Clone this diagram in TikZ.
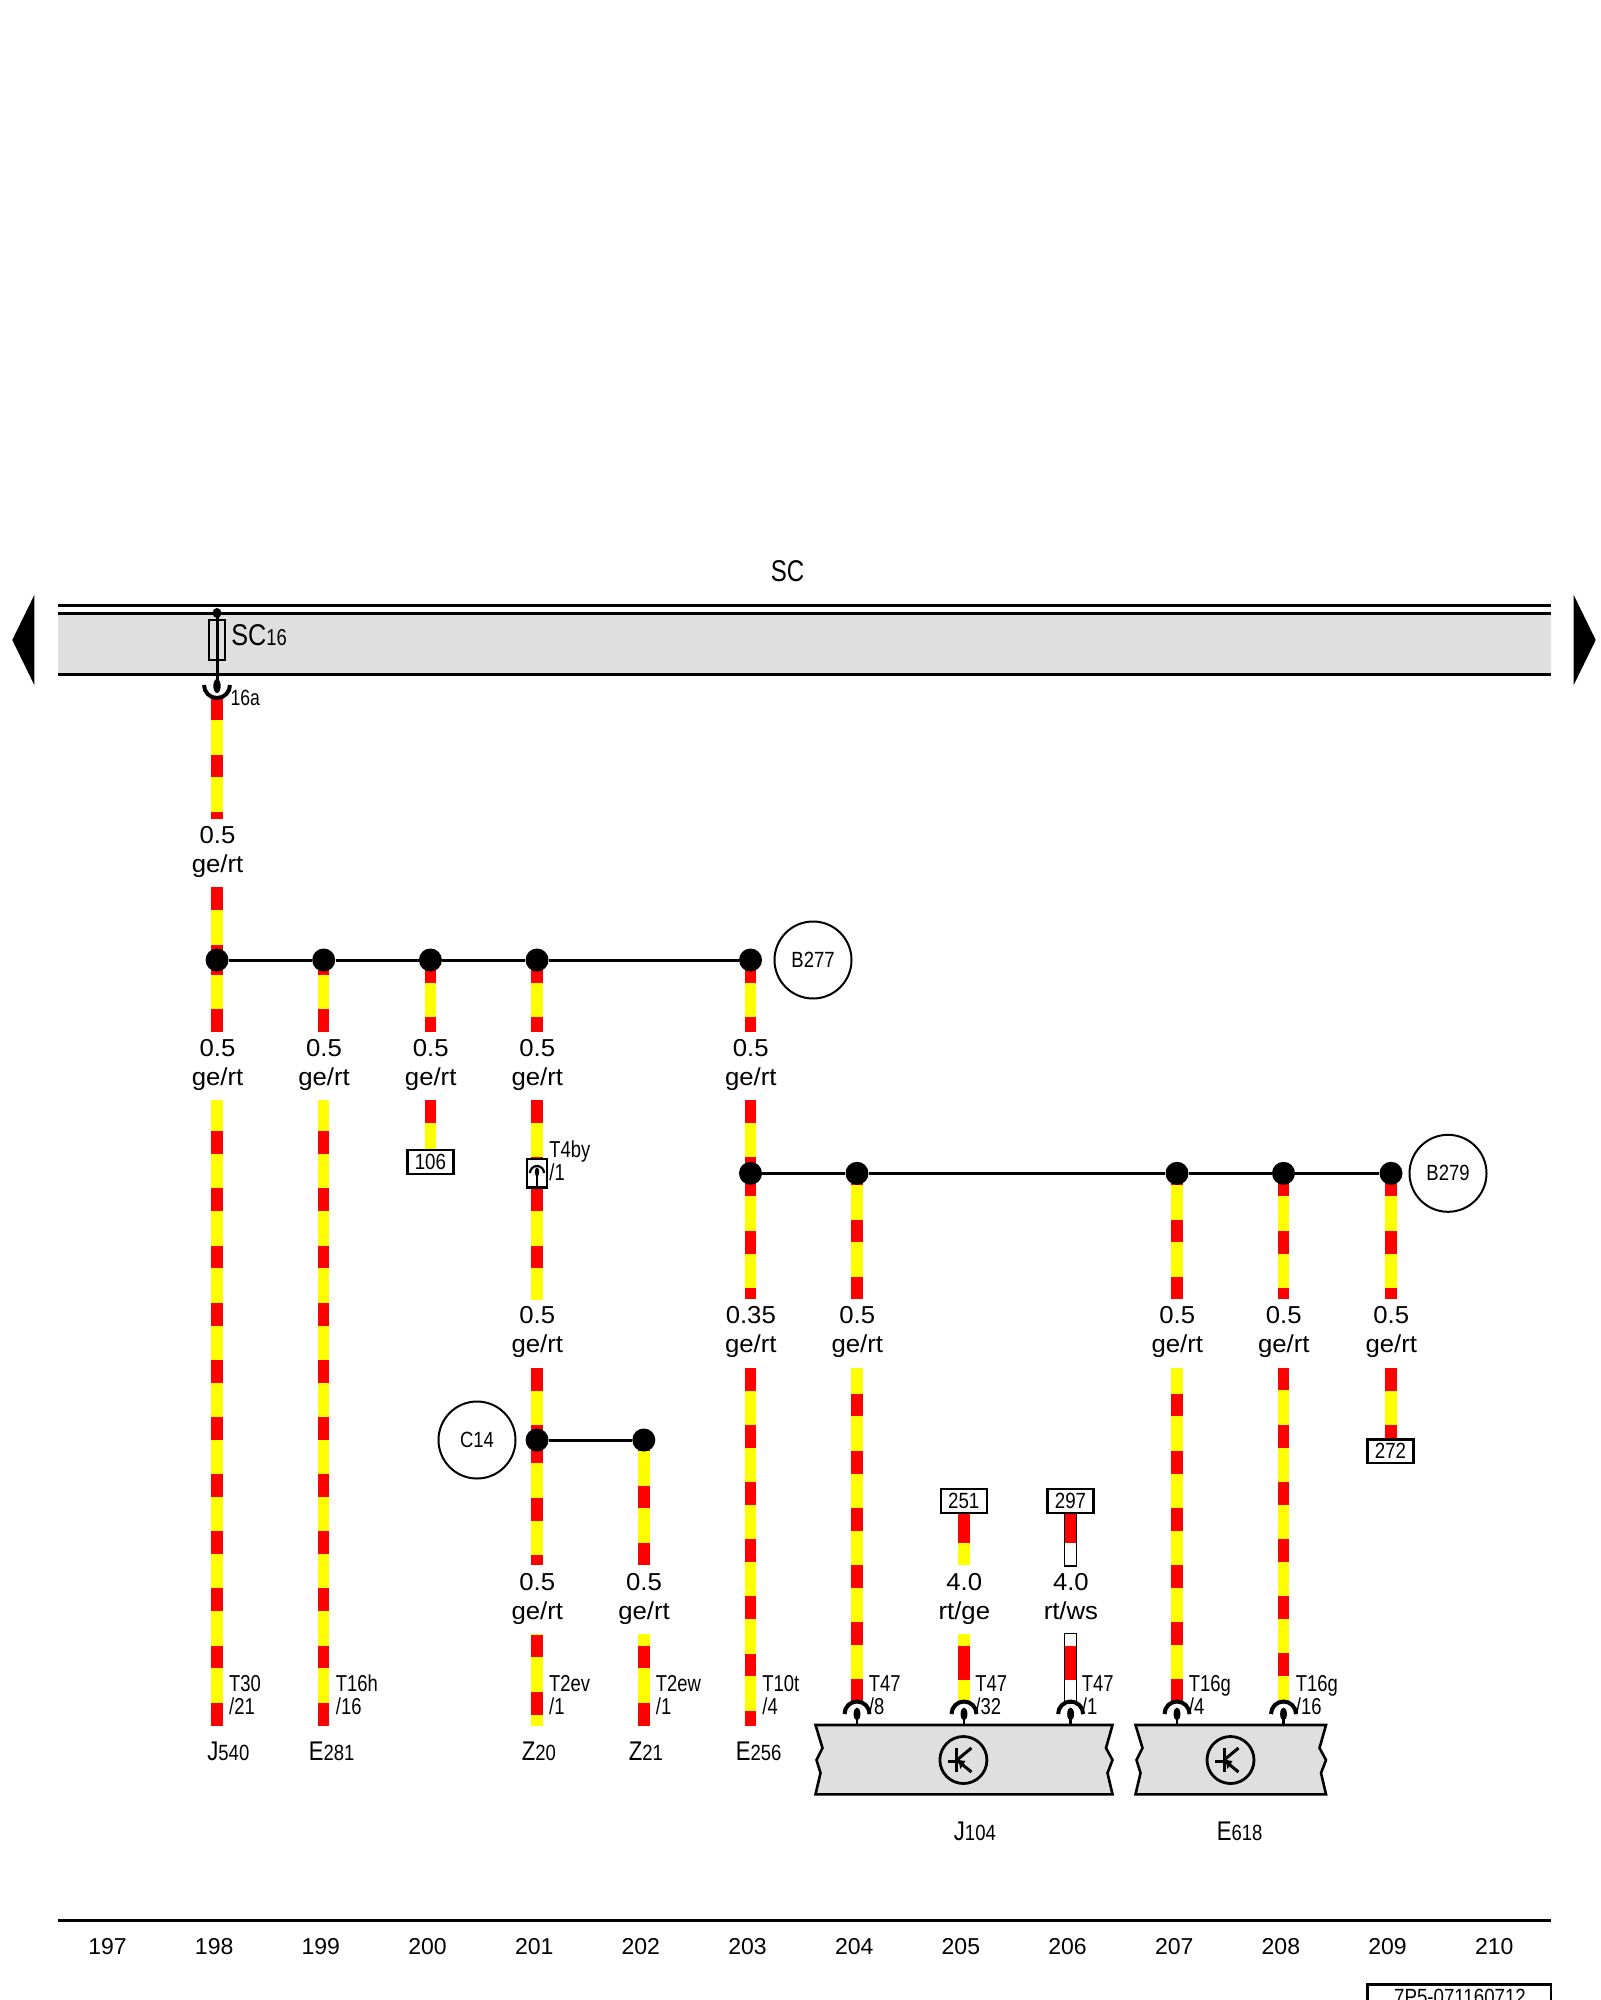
\documentclass[tikz,border=0pt]{standalone}
\usepackage{graphicx}
\usepackage{fontspec}
\setmainfont{Liberation Sans}
\definecolor{bandgray}{HTML}{DFDFDF}
\definecolor{wred}{HTML}{FF0000}
\definecolor{wyel}{HTML}{FFFF00}
\newcommand{\fsz}[1]{\fontsize{#1pt}{#1pt}\selectfont}
\newcommand{\smalltxt}[1]{\fsz{11.5}\scalebox{.8}[1]{#1}}
\newcommand{\boxtxt}[1]{\fsz{11}\scalebox{.85}[1]{#1}}
\newcommand{\circtxt}[1]{\fsz{11}\scalebox{.84}[1]{#1}}
\newcommand{\compname}[2]{\fsz{13.5}\scalebox{.82}[1]{#1}\fsz{11}\scalebox{.84}[1]{#2}}
\tikzset{
  lab/.style={inner sep=0pt,anchor=base},
  gauge/.style={lab,font=\fsz{12.25}},
  pin/.style={inner sep=0pt,anchor=base west},
  dotn/.style={circle,fill=black,draw=none,minimum size=11.5pt,inner sep=0pt},
  refc/.style={circle,draw=black,line width=1pt,minimum size=38.5pt,inner sep=0pt,fill=white},
  refb/.style={rectangle,draw=black,line width=1.2pt,minimum width=23pt,minimum height=11.8pt,inner sep=0pt,fill=white},
  bus/.style={line width=1.5pt,black},
  thickl/.style={line width=1.5pt,black},
  comp/.style={fill=bandgray,draw=black,line width=1.3pt,line join=miter},
}
% name, x, y0, y1, first red start reference
\newcommand{\wirecore}[8]{%
  \pgfmathsetmacro{\wph}{mod(1142.8+#3-#5,57.14)/2}%
  \coordinate (#1t) at (#2,#3);
  \coordinate (#1b) at (#2,#4);
  \draw[line width=5.7pt,#6] (#1t) -- (#1b);
  \draw[line width=5.7pt,wred,dash pattern=on #7pt off #8pt,dash phase=\wph pt] (#1t) -- (#1b);
}
\newcommand{\wireYR}[5]{\wirecore{#1}{#2}{#3}{#4}{#5}{wyel}{11.43}{17.14}}
\newcommand{\wireRY}[5]{\wirecore{#1}{#2}{#3}{#4}{#5}{wyel}{17.14}{11.43}}
\newcommand{\wireRW}[5]{%
  \coordinate (#1o) at (#2,#3-1.5);
  \coordinate (#1p) at (#2,#4+1.5);
  \draw[line width=6.8pt,black] (#1o) -- (#1p);
  \wirecore{#1}{#2}{#3}{#4}{#5}{white,line width=5.6pt}{17.14}{11.43}}
\newcommand{\gaugelab}[5]{%
  \node[gauge] (#1a) at (#2,#3) {\scalebox{1.05}[1]{#4}};
  \node[gauge] (#1b) at (#2,#3+29) {\scalebox{1.05}[1]{#5}};
}
\newcommand{\pinlab}[3]{%
  \node[pin] (#1a) at (#2,1691.7) {\smalltxt{#3}};
}
\newcommand{\pinno}[3]{%
  \node[pin] (#1b) at (#2,1714) {\smalltxt{#3}};
}
\newcommand{\contact}[2]{%
  \coordinate (#1c) at (#2,1714);
  \coordinate (#1e) at (#2,1725);
  \draw[line width=2pt,black] ([xshift=-6.25pt]#1c) arc[start angle=180,end angle=0,radius=6.25pt];
  \fill[black] (#2,1714) ellipse[x radius=3.4,y radius=6.5];
  \draw[line width=1.3pt,black] (#1c) -- (#1e);
}
\newcommand{\zbox}[3]{% name, left, right
  \path[comp] (#2,1725) -- (#3,1725) -- (#3-6.5,1748) -- (#3,1760) -- (#3-5,1773) -- (#3,1794.3)
     -- (#2,1794.3) -- (#2+5,1773) -- (#2+1,1760) -- (#2+7,1748) -- cycle;
}
\newcommand{\transsym}[2]{%
  \node[circle,draw=black,line width=1.4pt,minimum size=23.5pt,inner sep=0pt,fill=bandgray] (#1) at (#2,1760) {};
  \draw[line width=1.5pt,black] (#2-6.5,1748) -- (#2-6.5,1772);
  \draw[line width=1.5pt,black] (#2-15.5,1761) -- (#2-3,1761);
  \draw[line width=1.5pt,black] (#2-6.5,1760) -- (#2+8,1748);
  \draw[line width=1.5pt,black] (#2-6.5,1760) -- (#2+8,1772);
  \fill[black] (#2-5,1760) -- (#2+2,1761) -- (#2-3,1769) -- cycle;
}
\begin{document}
\begin{tikzpicture}[x=0.5pt,y=-0.5pt]
\useasboundingbox (0,0) rectangle (1600,2000);
\clip (0,0) rectangle (1600,2000);
\fill[white] (0,0) rectangle (1600,2000);

% SC band
\fill[bandgray] (57.5,613) rectangle (1551,674);
\coordinate (bl1) at (57.5,605); \coordinate (br1) at (1551,605);
\coordinate (bl2) at (57.5,613); \coordinate (br2) at (1551,613);
\coordinate (bl3) at (57.5,674); \coordinate (br3) at (1551,674);
\draw[thickl] (bl1) -- (br1);
\draw[thickl] (bl2) -- (br2);
\draw[thickl] (bl3) -- (br3);
\fill[black] (12.3,640) -- (34.3,595) -- (34.3,685) -- cycle;
\fill[black] (1595.7,640) -- (1573.7,595) -- (1573.7,685) -- cycle;
\node[lab] (sctitle) at (787.5,581) {\fsz{15}\scalebox{.8}[1]{SC}};

% Fuse
\draw[line width=1pt,black] (209,620) rectangle (225,660);
\coordinate (ftop) at (217,613);
\coordinate (fbot) at (217,686);
\draw[thickl] (ftop) -- (fbot);
\fill[black] (ftop) ellipse[x radius=4.5,y radius=5];
\fill[black] (fbot) ellipse[x radius=3.7,y radius=7];
\node[pin] (sc16) at (231,645) {\fsz{15}\scalebox{.84}[1]{SC}\fsz{11.5}\scalebox{.8}[1]{16}};
\node[pin] (p16a) at (230.2,705) {\fsz{11}\scalebox{.8}[1]{16a}};

% Wires, column 217
\wireYR{wa1}{217}{697}{819.3}{811.7}
\wireYR{wa2}{217}{887.3}{960}{944.6}
\wireYR{wa3}{217}{960}{1032.3}{1009.3}
\wireYR{wa4}{217}{1100}{1725.7}{1702.7}
% 323.7
\wireYR{wb3}{323.7}{960}{1032.3}{1009.3}
\wireYR{wb4}{323.7}{1100}{1725.7}{1702.7}
% 430.4
\wireYR{wc3}{430.4}{960}{1032.3}{1017.3}
\wireYR{wc4}{430.4}{1100}{1150}{1100}
% 537
\wireYR{wd3}{537}{960}{1032.3}{1017.3}
\wireYR{wd4}{537}{1100}{1159}{1100}
\wireYR{wd5}{537}{1187.7}{1299.5}{1188.4}
\wireYR{wd6}{537}{1367.7}{1440}{1367.7}
\wireYR{wd7}{537}{1440}{1565.3}{1497.7}
\wireYR{wd8}{537}{1634.3}{1725.7}{1691.7}
% 643.8
\wireYR{we7}{643.8}{1440}{1565.3}{1542.7}
\wireYR{we8}{643.8}{1634.3}{1725.7}{1702.7}
% 750.5
\wireYR{wf3}{750.5}{960}{1032.3}{1017.3}
\wireYR{wf4}{750.5}{1100}{1173.3}{1100}
\wireYR{wf5}{750.5}{1173.3}{1299.3}{1230.7}
\wireYR{wf6}{750.5}{1367.7}{1725.7}{1710.7}
% 857
\wireYR{wg5}{857}{1173.3}{1299.3}{1276.7}
\wireYR{wg6}{857}{1367.7}{1702}{1679.3}
% 964
\wireRY{wh1}{964}{1513}{1565.3}{1508.4}
\wireRY{wh2}{964}{1634.3}{1702}{1645.7}
% 1070.6
\wireRW{wi1}{1070.6}{1513}{1565.3}{1508.4}
\wireRW{wi2}{1070.6}{1634.3}{1702}{1645.7}
% 1177
\wireYR{wj5}{1177}{1173.3}{1299.3}{1276.7}
\wireYR{wj6}{1177}{1367.7}{1702}{1679.3}
% 1283.5
\wireYR{wk5}{1283.5}{1173.3}{1299.3}{1230.7}
\wireYR{wk6}{1283.5}{1367.7}{1702}{1653.3}
% 1391
\wireYR{wl5}{1391}{1173.3}{1299.3}{1230.7}
\wireYR{wl6}{1391}{1367.7}{1440}{1367.7}

% Top contact on first wire
\draw[line width=2pt,black] (204,685) arc[start angle=180,end angle=360,radius=6.5pt];

% Junctions
\foreach \nm/\xx in {d1/217,d2/323.7,d3/430.4,d4/537,d5/750.5}
  \node[dotn] (\nm) at (\xx,960) {};
\foreach \nm/\xx in {f1/750.5,f2/857,f3/1177,f4/1283.5,f5/1391}
  \node[dotn] (\nm) at (\xx,1173.3) {};
\node[dotn] (c1) at (537,1440) {};
\node[dotn] (c2) at (643.8,1440) {};
\draw[bus] (d1) -- (d2);
\draw[bus] (d2) -- (d3);
\draw[bus] (d3) -- (d4);
\draw[bus] (d4) -- (d5);
\draw[bus] (f1) -- (f2);
\draw[bus] (f2) -- (f3);
\draw[bus] (f3) -- (f4);
\draw[bus] (f4) -- (f5);
\draw[bus] (c1) -- (c2);

% Reference circles
\node[refc] (b277) at (813,960) {\circtxt{B277}};
\node[refc] (b279) at (1448,1173.3) {\circtxt{B279}};
\node[refc] (c14) at (477,1440) {\circtxt{C14}};

% Reference boxes
\node[refb] (r106) at (430.4,1162) {\boxtxt{106}};
\node[refb] (r272) at (1390.5,1451.2) {\boxtxt{272}};
\node[refb] (r251) at (963.7,1501) {\boxtxt{251}};
\node[refb] (r297) at (1070.5,1501) {\boxtxt{297}};

% In-line connector T4by
\node[rectangle,draw=black,line width=1.2pt,fill=white,minimum width=10pt,minimum height=14.2pt,inner sep=0pt] (t4by) at (537,1173.4) {};
\draw[line width=1.1pt,black] (530,1173) arc[start angle=180,end angle=0,radius=3.5pt];
\fill[black] (537,1172) ellipse[x radius=2.2,y radius=4.5];
\coordinate (t4s) at (537,1172);
\draw[line width=1pt,black] (t4s) -- (t4by.south);
\node[pin] (t4a) at (549,1157) {\smalltxt{T4by}};
\node[pin] (t4b) at (549,1180) {\smalltxt{/1}};

% Gauge labels
\gaugelab{ga}{217.5}{843}{0.5}{ge/rt}
\gaugelab{gb}{217.5}{1056}{0.5}{ge/rt}
\gaugelab{gc}{324}{1056}{0.5}{ge/rt}
\gaugelab{gd}{430.7}{1056}{0.5}{ge/rt}
\gaugelab{ge}{537.3}{1056}{0.5}{ge/rt}
\gaugelab{gf}{750.8}{1056}{0.5}{ge/rt}
\gaugelab{gg}{537.3}{1323.3}{0.5}{ge/rt}
\gaugelab{gh}{750.8}{1323.3}{0.35}{ge/rt}
\gaugelab{gi}{857.3}{1323.3}{0.5}{ge/rt}
\gaugelab{gj}{1177.3}{1323.3}{0.5}{ge/rt}
\gaugelab{gk}{1283.8}{1323.3}{0.5}{ge/rt}
\gaugelab{gl}{1391.3}{1323.3}{0.5}{ge/rt}
\gaugelab{gm}{537.3}{1590}{0.5}{ge/rt}
\gaugelab{gn}{644}{1590}{0.5}{ge/rt}
\gaugelab{go}{964.3}{1590}{4.0}{rt/ge}
\gaugelab{gp}{1070.9}{1590}{4.0}{rt/ws}

% Pin labels
\pinlab{pa}{228.8}{T30}\pinno{pa}{228.8}{/21}
\pinlab{pb}{335.5}{T16h}\pinno{pb}{335.5}{/16}
\pinlab{pc}{548.8}{T2ev}\pinno{pc}{548.8}{/1}
\pinlab{pd}{655.5}{T2ew}\pinno{pd}{655.5}{/1}
\pinlab{pe}{762}{T10t}\pinno{pe}{762}{/4}
\pinlab{pf}{868.5}{T47}\pinno{pf}{868.5}{/8}
\pinlab{pg}{975}{T47}\pinno{pg}{975}{/32}
\pinlab{ph}{1081.5}{T47}\pinno{ph}{1081.5}{/1}
\pinlab{pi}{1188.5}{T16g}\pinno{pi}{1188.5}{/4}
\pinlab{pj}{1295.5}{T16g}\pinno{pj}{1295.5}{/16}

% Component boxes
\zbox{bj}{815.5}{1112.5}
\zbox{be}{1135.5}{1326}
\contact{ca}{857}
\contact{cb}{964}
\contact{cc}{1070.6}
\contact{cd}{1177}
\contact{ce}{1283.5}
\transsym{sj}{963.4}
\transsym{se}{1230.5}

% Component names
\node[pin] (j540) at (207,1760) {\compname{J}{540}};
\node[pin] (e281) at (308.5,1760) {\compname{E}{281}};
\node[pin] (z20) at (521.5,1760) {\compname{Z}{20}};
\node[pin] (z21) at (628.5,1760) {\compname{Z}{21}};
\node[pin] (e256) at (735.5,1760) {\compname{E}{256}};
\node[pin] (j104) at (953.5,1840) {\compname{J}{104}};
\node[pin] (e618) at (1216.5,1840) {\compname{E}{618}};

% Bottom rule and column numbers
\coordinate (rl) at (57.5,1920); \coordinate (rr) at (1551,1920);
\draw[thickl] (rl) -- (rr);
\foreach \n [count=\i from 0] in {197,...,210}
  \node[lab,font=\fsz{11.5}] (col\n) at (107.5+106.67*\i,1954) {\n};

% Document number box
\draw[line width=1.3pt,black] (1367.7,2010) -- (1367.7,1984.5) -- (1551,1984.5) -- (1551,2010);
\node[lab] (docno) at (1460,2004) {\fsz{11}\scalebox{.85}[1]{7P5-071160712}};
\end{tikzpicture}
\end{document}
